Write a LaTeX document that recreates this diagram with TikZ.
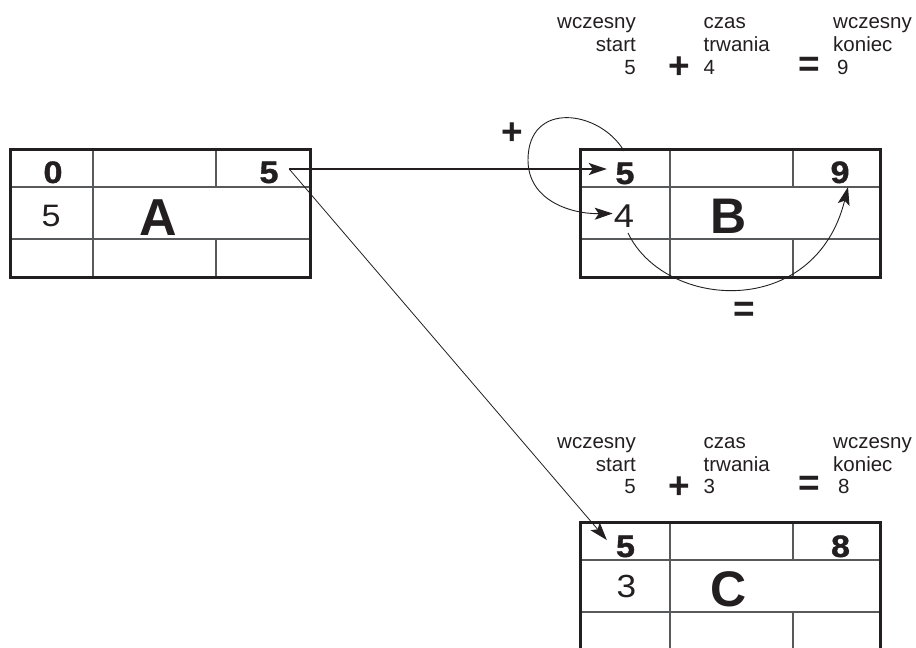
\documentclass[tikz,border=0pt]{standalone}
\usepackage{fontspec}
\setmainfont{Liberation Sans}
% digits inside the boxes are set slightly widened; top-row digits heavier
\newfontfamily\widefont[FakeStretch=1.1]{Liberation Sans}
\newfontfamily\heavyfont[FakeStretch=1.1,FakeBold=1.2]{Liberation Sans Bold}
\usetikzlibrary{arrows.meta}
\definecolor{ink}{HTML}{231F20}
\definecolor{rule}{HTML}{58595B}

% Activity box: #1,#2 top-left corner, #3,#4 offsets of the two column rules
\newcommand\taskgrid[4]{%
  \draw[gridline] (#1,#2+38) -- ++(300,0) (#1,#2+90) -- ++(300,0)
    (#1+#3,#2) -- ++(0,128)
    (#1+#4,#2) -- ++(0,38) (#1+#4,#2+90) -- ++(0,38);
  \draw[frame] (#1,#2) rectangle ++(300,128);
}

\begin{document}
\begin{tikzpicture}[x=1pt,y=-1pt,
  gridline/.style={draw=rule, line width=1.6pt},
  frame/.style={draw=ink, line width=3pt},
  cellbold/.style={font=\heavyfont\fontsize{31}{36}\selectfont, inner sep=0pt, anchor=base, text=ink},
  cellnum/.style={font=\widefont\fontsize{#1}{#1}\selectfont, inner sep=0pt, anchor=base, text=ink},
  taskname/.style={font=\fontsize{#1}{#1}\selectfont\bfseries, inner sep=0pt, anchor=base, text=ink},
  note/.style={font=\fontsize{20.5}{23}\selectfont, inner sep=0pt, text=ink},
  opsign/.style={font=\fontsize{37}{40}\selectfont\bfseries, inner sep=0pt, text=ink},
  flow/.style={draw=ink, -{Stealth[length=18pt,width=12pt,inset=4pt]}},
]
\useasboundingbox (0,0) rectangle (916,648);

% activity boxes
\taskgrid{10}{149}{83}{206}
\taskgrid{580}{149}{90}{213}
\taskgrid{580}{522}{90}{213}

% task A
\node[cellbold] (a-es) at (53,183) {0};
\node[cellbold] (a-ef) at (269,183) {5};
\node[cellnum=31] (a-dur) at (51,226) {5};
\node[taskname=52] (a-name) at (158,235) {A};

% task B
\node[cellbold] (b-es) at (625,184) {5};
\node[cellbold] (b-ef) at (840,183) {9};
\node[cellnum=33] (b-dur) at (624,227) {4};
\node[taskname=50] (b-name) at (729,233) {B};

% task C
\node[cellbold] (c-es) at (625.5,557) {5};
\node[cellbold] (c-ef) at (840.5,557) {8};
\node[cellnum=32] (c-dur) at (626.5,597) {3};
\node[taskname=50] (c-name) at (728.5,606) {C};

% formula for B
\node[note,anchor=base east] (b-s1) at (636,28.5) {wczesny};
\node[note,anchor=base east] (b-s2) at (636,51.5) {start};
\node[note,anchor=base east] (b-s3) at (636,74.5) {5};
\node[opsign] (b-plus) at (679,68) {+};
\node[note,anchor=base west] (b-d1) at (703.5,28.5) {czas};
\node[note,anchor=base west] (b-d2) at (703.5,51.5) {trwania};
\node[note,anchor=base west] (b-d3) at (703.5,74.5) {4};
\node[opsign] (b-eq) at (809,67) {=};
\node[note,anchor=base west] (b-f1) at (833,28.5) {wczesny};
\node[note,anchor=base west] (b-f2) at (833,51.5) {koniec};
\node[note,anchor=base west] (b-f3) at (837,74.5) {9};

% formula for C
\node[note,anchor=base east] (c-s1) at (636,448.5) {wczesny};
\node[note,anchor=base east] (c-s2) at (636,471.5) {start};
\node[note,anchor=base east] (c-s3) at (636,493.5) {5};
\node[opsign] (c-plus) at (679,487.5) {+};
\node[note,anchor=base west] (c-d1) at (703.5,448.5) {czas};
\node[note,anchor=base west] (c-d2) at (703.5,471.5) {trwania};
\node[note,anchor=base west] (c-d3) at (703.5,493.5) {3};
\node[opsign] (c-eq) at (809,486) {=};
\node[note,anchor=base west] (c-f1) at (833,448.5) {wczesny};
\node[note,anchor=base west] (c-f2) at (833,471.5) {koniec};
\node[note,anchor=base west] (c-f3) at (838,493.5) {8};

% dependencies A -> B and A -> C
\draw[flow, line width=2pt] ([shift={(10.5pt,14pt)}]a-ef.base east) -- ([shift={(-8.5pt,15pt)}]b-es.base west);
\draw[flow, line width=0.8pt] ([shift={(10.5pt,14pt)}]a-ef.base east) -- ([shift={(-9pt,17pt)}]c-es.base west);

% start + duration loop
\draw[flow, line width=0.9pt] ([shift={(-1pt,33pt)}]b-es.base)
  .. controls (600,110) and (528,100) .. (528,160)
  .. controls (528,200) and (570,214) .. ([shift={(-1pt,13.5pt)}]b-dur.base west);
\node[opsign] (loop-plus) at (512,134) {+};

% duration = early finish
\draw[flow, line width=0.9pt] ([shift={(4pt,-6pt)}]b-dur.base)
  .. controls (665,310) and (815,320) .. ([shift={(8pt,-4pt)}]b-ef.base);
\node[opsign] (loop-eq) at (744,312) {=};
\end{tikzpicture}
\end{document}
